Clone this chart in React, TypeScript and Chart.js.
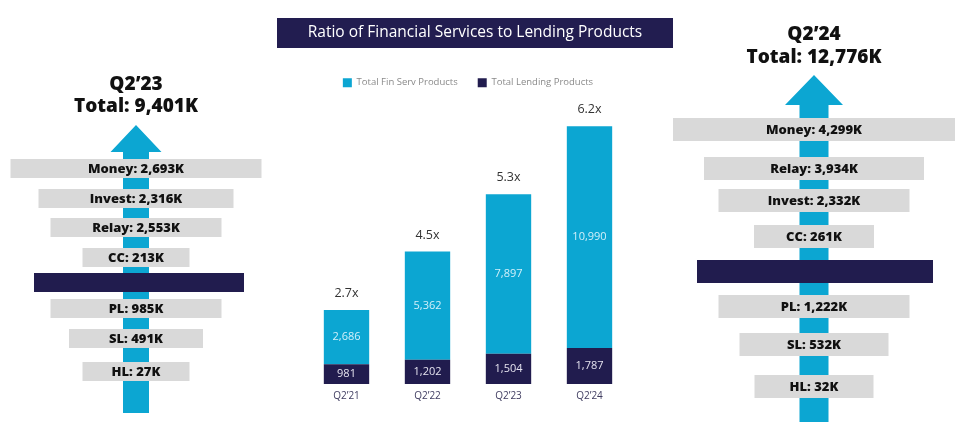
import React, { useEffect, useRef } from "react";
import { Chart, registerables } from "chart.js";

Chart.register(...registerables);

// ---------- data ----------
const categories = ["Q2’21", "Q2’22", "Q2’23", "Q2’24"];
const finServProducts = [2686, 5362, 7897, 10990];
const lendingProducts = [981, 1202, 1504, 1787];
const ratioLabels = ["2.7x", "4.5x", "5.3x", "6.2x"];
const chartTitle = "Ratio of Financial Services to Lending Products";
const seriesNames = ["Total Lending Products", "Total Fin Serv Products"];

const q223Heading = ["Q2’23", "Total: 9,401K"];
const q223FinServ = ["Money: 2,693K", "Invest: 2,316K", "Relay: 2,553K", "CC: 213K"];
const q223Lending = ["PL: 985K", "SL: 491K", "HL: 27K"];

const q224Heading = ["Q2’24", "Total: 12,776K"];
const q224FinServ = ["Money: 4,299K", "Relay: 3,934K", "Invest: 2,332K", "CC: 261K"];
const q224Lending = ["PL: 1,222K", "SL: 532K", "HL: 32K"];

// ---------- styles ----------
const CYAN = "#0ca6d2";
const NAVY = "#211c4e";
const GREY = "#d9d9d9";
const FONT = "'Open Sans', sans-serif";

Chart.defaults.font.family = FONT;

type PanelStyle = {
  cx: number;
  headY: number[];
  headSize: number;
  tip: number;
  base: number;
  headHalf: number;
  shaftHalf: number;
  bottom: number;
  boxH: number;
  finTops: number[];
  finW: number[];
  navyTop: number;
  navyW: number;
  navyCx: number;
  lendTops: number[];
  lendW: number[];
  labelSize: number;
};

const leftStyle: PanelStyle = {
  cx: 136,
  headY: [85, 107],
  headSize: 19,
  tip: 125,
  base: 152,
  headHalf: 25.5,
  shaftHalf: 13,
  bottom: 413,
  boxH: 19,
  finTops: [159, 189, 218, 248],
  finW: [251, 195, 171, 107],
  navyTop: 273,
  navyW: 210,
  navyCx: 139,
  lendTops: [299, 329, 362],
  lendW: [171, 134, 107],
  labelSize: 13,
};

const rightStyle: PanelStyle = {
  cx: 814,
  headY: [35, 58],
  headSize: 19,
  tip: 75,
  base: 105,
  headHalf: 29,
  shaftHalf: 14.5,
  bottom: 422,
  boxH: 23,
  finTops: [118, 157, 189, 225],
  finW: [282, 220, 191, 120],
  navyTop: 260,
  navyW: 236,
  navyCx: 815,
  lendTops: [295, 333, 375],
  lendW: [191, 149, 119],
  labelSize: 13,
};

function drawPanel(
  ctx: CanvasRenderingContext2D,
  heading: string[],
  fin: string[],
  lend: string[],
  s: PanelStyle
) {
  ctx.save();
  // headings
  ctx.fillStyle = "#111111";
  ctx.textAlign = "center";
  ctx.textBaseline = "middle";
  ctx.font = `800 ${s.headSize}px ${FONT}`;
  heading.forEach((t, i) => ctx.fillText(t, s.cx, s.headY[i]));

  // arrow
  ctx.fillStyle = CYAN;
  ctx.beginPath();
  ctx.moveTo(s.cx, s.tip);
  ctx.lineTo(s.cx + s.headHalf, s.base);
  ctx.lineTo(s.cx + s.shaftHalf, s.base);
  ctx.lineTo(s.cx + s.shaftHalf, s.bottom);
  ctx.lineTo(s.cx - s.shaftHalf, s.bottom);
  ctx.lineTo(s.cx - s.shaftHalf, s.base);
  ctx.lineTo(s.cx - s.headHalf, s.base);
  ctx.closePath();
  ctx.fill();

  const box = (label: string | null, top: number, w: number, color: string, cx: number) => {
    ctx.fillStyle = color;
    ctx.fillRect(cx - w / 2, top, w, s.boxH);
    if (label) {
      ctx.fillStyle = "#111111";
      ctx.font = `800 ${s.labelSize}px ${FONT}`;
      ctx.fillText(label, cx, top + s.boxH / 2 + 0.5);
    }
  };
  fin.forEach((t, i) => box(t, s.finTops[i], s.finW[i], GREY, s.cx));
  box(null, s.navyTop, s.navyW, NAVY, s.navyCx);
  lend.forEach((t, i) => box(t, s.lendTops[i], s.lendW[i], GREY, s.cx));
  ctx.restore();
}

const panelPlugin = {
  id: "sidePanels",
  afterDraw(chart: any) {
    const ctx: CanvasRenderingContext2D = chart.ctx;
    // title box
    ctx.save();
    ctx.fillStyle = "#221d50";
    ctx.fillRect(277, 18, 396, 30);
    ctx.fillStyle = "#ffffff";
    ctx.textAlign = "center";
    ctx.textBaseline = "middle";
    ctx.font = `15.5px ${FONT}`;
    ctx.fillText(chartTitle, 475, 33);
    ctx.restore();

    drawPanel(ctx, q223Heading, q223FinServ, q223Lending, leftStyle);
    drawPanel(ctx, q224Heading, q224FinServ, q224Lending, rightStyle);
  },
};

const labelPlugin = {
  id: "barLabels",
  afterDatasetsDraw(chart: any) {
    const ctx: CanvasRenderingContext2D = chart.ctx;
    ctx.save();
    ctx.textAlign = "center";
    ctx.textBaseline = "middle";
    ctx.font = `11px ${FONT}`;
    chart.data.datasets.forEach((ds: any, di: number) => {
      const meta = chart.getDatasetMeta(di);
      meta.data.forEach((bar: any, i: number) => {
        const v = ds.data[i] as number;
        ctx.fillStyle = di === 0 ? "#e4e2ee" : "#d2f0fa";
        ctx.fillText(v.toLocaleString("en-US"), bar.x, (bar.y + bar.base) / 2);
      });
    });
    const topMeta = chart.getDatasetMeta(1);
    ctx.font = `12.5px ${FONT}`;
    ctx.fillStyle = "#333333";
    topMeta.data.forEach((bar: any, i: number) => {
      ctx.fillText(ratioLabels[i], bar.x, bar.y - 16.5);
    });
    ctx.restore();
  },
};

export default function App() {
  const ref = useRef<HTMLCanvasElement>(null);
  useEffect(() => {
    const canvas = ref.current!;
    const chart = new Chart(canvas, {
      type: "bar",
      data: {
        labels: categories,
        datasets: [
          {
            label: seriesNames[0],
            data: lendingProducts,
            backgroundColor: NAVY,
            borderWidth: 0,
            barPercentage: 0.56,
            categoryPercentage: 1,
          },
          {
            label: seriesNames[1],
            data: finServProducts,
            backgroundColor: CYAN,
            borderWidth: 0,
            barPercentage: 0.56,
            categoryPercentage: 1,
          },
        ],
      },
      options: {
        responsive: false,
        animation: false,
        devicePixelRatio: 1,
        layout: { padding: { left: 306, right: 330, top: 58, bottom: 19 } },
        scales: {
          x: {
            stacked: true,
            grid: { display: false, drawTicks: false },
            border: { display: false },
            ticks: { color: "#3f3c60", font: { size: 10 }, padding: 6 },
          },
          y: { stacked: true, display: false, min: 0, max: 14200 },
        },
        plugins: {
          legend: {
            position: "top",
            labels: {
              boxWidth: 9,
              boxHeight: 9,
              padding: 20,
              color: "#8a8a8a",
              font: { size: 9.5 },
              sort: (a: any, b: any) => b.datasetIndex - a.datasetIndex,
            },
          },
          tooltip: { enabled: false },
        },
      } as any,
      plugins: [panelPlugin, labelPlugin],
    });
    return () => chart.destroy();
  }, []);

  return (
    <div style={{ position: "fixed", left: 0, top: 0, width: 960, height: 427, background: "#ffffff" }}>
      <canvas ref={ref} width={960} height={427} style={{ display: "block" }} />
    </div>
  );
}
